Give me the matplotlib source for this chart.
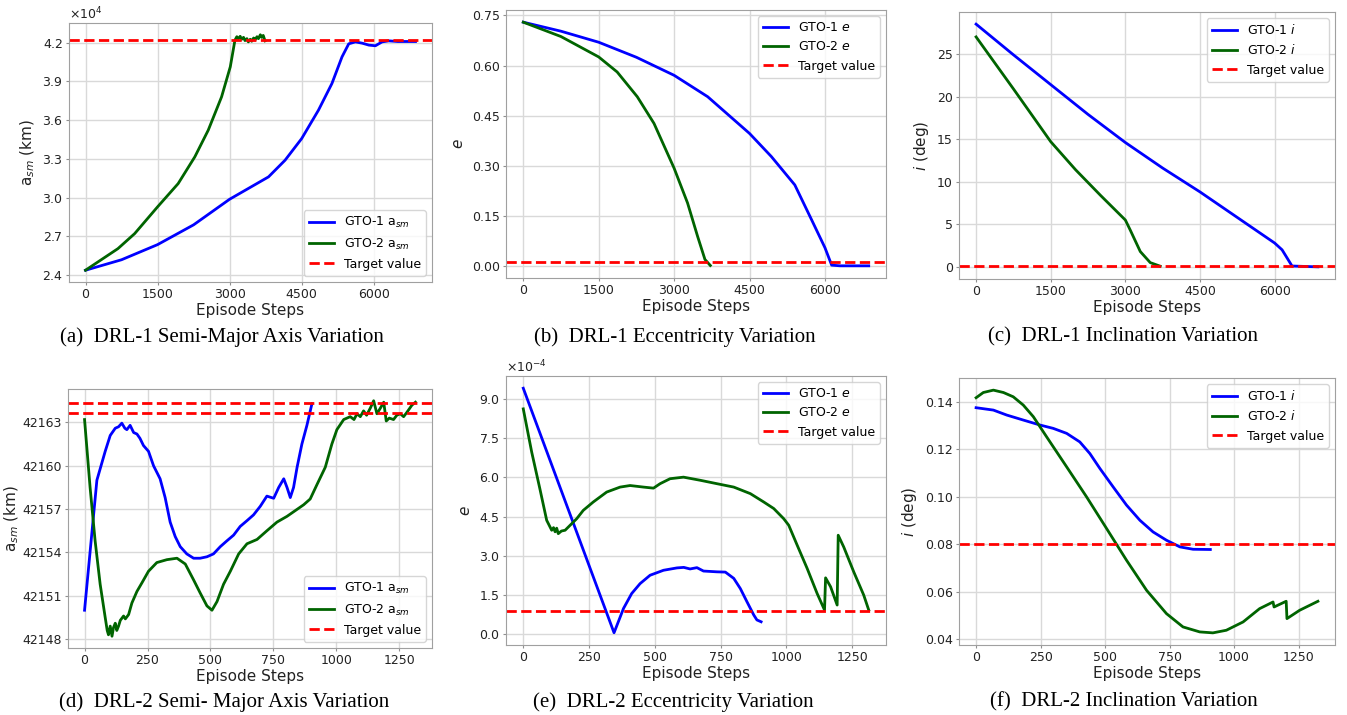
import matplotlib
matplotlib.use('Agg')
import matplotlib.pyplot as plt

# ---- (a) DRL-1 semi-major axis ----
a1_steps = [0, 750, 1500, 2250, 3000, 3810, 4155, 4500, 4850, 5130, 5340, 5480, 5620, 5760, 5900, 6035, 6175, 6315, 6500, 6870]
a1_gto1 = [24390, 25200, 26370, 27900, 29880, 31610, 32900, 34570, 36770, 38830, 40890, 41900, 42050, 41950, 41800, 41750, 42050, 42130, 42080, 42080]
a1_steps2 = [0, 675, 1023, 1500, 1929, 2276, 2555, 2833, 3014, 3111, 3150, 3180, 3220, 3250, 3290, 3320, 3360, 3390,
             3430, 3460, 3500, 3530, 3570, 3600, 3640, 3668, 3700, 3738]
a1_gto2 = [24390, 26060, 27220, 29290, 31090, 33160, 35220, 37800, 40120, 42180, 42450, 42300, 42480, 42250, 42400,
           42150, 42300, 42050, 42250, 42100, 42350, 42200, 42450, 42300, 42600, 42400, 42550, 42130]
a1_target = 42164

# ---- (b) DRL-1 eccentricity ----
e1_steps = [0, 750, 1500, 2250, 3000, 3667, 4500, 4933, 5400, 5733, 6000, 6133, 6300, 6870]
e1_gto1 = [0.730, 0.703, 0.670, 0.625, 0.571, 0.507, 0.397, 0.328, 0.243, 0.139, 0.055, 0.003, 0.001, 0.001]
e1_steps2 = [0, 750, 1500, 1867, 2267, 2600, 3000, 3267, 3467, 3613, 3720]
e1_gto2 = [0.730, 0.687, 0.626, 0.581, 0.507, 0.427, 0.293, 0.189, 0.089, 0.020, 0.002]
e1_target = 0.011

# ---- (c) DRL-1 inclination ----
i1_steps = [0, 750, 1500, 2250, 3000, 3750, 4500, 5250, 6000, 6150, 6350, 6870]
i1_gto1 = [28.5, 24.9, 21.4, 17.9, 14.6, 11.6, 8.8, 5.8, 2.8, 2.0, 0.1, 0.0]
i1_steps2 = [0, 750, 1500, 2000, 2500, 3000, 3100, 3300, 3500, 3700]
i1_gto2 = [27.0, 20.9, 14.7, 11.4, 8.4, 5.5, 4.3, 1.8, 0.5, 0.08]
i1_target = 0.1

# ---- (d) DRL-2 semi-major axis ----
a2_steps = [0, 49, 82, 102, 122, 135, 148, 160, 168, 181, 195, 208, 220, 234, 254, 274, 300, 320, 340, 360, 380,
            406, 433, 459, 486, 512, 539, 565, 592, 618, 645, 671, 698, 724, 751, 771, 791, 804, 817, 830, 844,
            863, 883, 903]
a2_gto1 = [42150.0, 42159.0, 42161.0, 42162.1, 42162.6, 42162.7, 42162.95, 42162.6, 42162.5, 42162.8, 42162.3,
           42162.2, 42161.9, 42161.4, 42161.0, 42160.0, 42159.1, 42157.8, 42156.1, 42155.1, 42154.4, 42153.9,
           42153.6, 42153.6, 42153.7, 42153.9, 42154.4, 42154.8, 42155.2, 42155.8, 42156.2, 42156.6, 42157.2,
           42157.9, 42157.75, 42158.5, 42159.1, 42158.5, 42157.8, 42158.5, 42159.9, 42161.5, 42162.8, 42164.3]
a2_steps2 = [0, 22, 42, 62, 82, 90, 95, 102, 109, 115, 122, 128, 135, 142, 155, 162, 175, 188, 208, 228, 254, 287,
             327, 367, 400, 433, 459, 486, 506, 526, 552, 579, 612, 645, 685, 724, 764, 804, 837, 870, 896, 923,
             956, 982, 1002, 1029, 1055, 1070, 1082, 1095, 1108, 1120, 1135, 1148, 1161, 1175, 1188, 1198, 1210,
             1227, 1240, 1254, 1267, 1280, 1300, 1314]
a2_gto2 = [42163.2, 42158.5, 42154.8, 42151.8, 42149.5, 42148.6, 42148.3, 42148.9, 42148.2, 42148.8, 42149.1,
           42148.6, 42148.9, 42149.3, 42149.6, 42149.4, 42149.7, 42150.5, 42151.3, 42151.9, 42152.7, 42153.3,
           42153.5, 42153.6, 42153.2, 42152.1, 42151.2, 42150.3, 42150.0, 42150.6, 42151.8, 42152.7, 42153.9,
           42154.6, 42154.9, 42155.5, 42156.1, 42156.5, 42156.9, 42157.3, 42157.7, 42158.7, 42159.9, 42161.5,
           42162.5, 42163.2, 42163.4, 42163.2, 42163.6, 42163.4, 42163.8, 42163.5, 42164.0, 42164.5, 42163.6,
           42164.0, 42164.4, 42163.1, 42163.3, 42163.2, 42163.5, 42163.6, 42163.4, 42163.7, 42164.2, 42164.4]
a2_target_hi = 42164.35
a2_target_lo = 42163.65

# ---- (e) DRL-2 eccentricity (x1e-4) ----
e2_steps = [0, 345, 381, 412, 444, 482, 533, 584, 610, 634, 660, 685, 736, 768, 800, 825, 850, 876, 888, 904]
e2_gto1 = [9.41, 0.06, 0.99, 1.56, 1.94, 2.26, 2.45, 2.54, 2.56, 2.50, 2.55, 2.42, 2.39, 2.38, 2.14, 1.75, 1.25,
           0.74, 0.55, 0.48]
e2_steps2 = [0, 32, 63, 89, 108, 115, 121, 127, 133, 145, 159, 178, 203, 228, 266, 317, 368, 406, 457, 495, 520,
             558, 609, 673, 736, 800, 863, 914, 952, 990, 1009, 1041, 1079, 1117, 1145, 1149, 1168, 1193, 1197,
             1218, 1256, 1294, 1313]
e2_gto2 = [8.62, 6.97, 5.57, 4.36, 3.98, 4.08, 3.92, 4.06, 3.85, 3.95, 3.98, 4.17, 4.42, 4.74, 5.06, 5.44, 5.63,
           5.69, 5.63, 5.59, 5.76, 5.95, 6.01, 5.89, 5.76, 5.63, 5.38, 5.06, 4.81, 4.42, 4.17, 3.41, 2.52, 1.56,
           0.93, 2.16, 1.82, 1.12, 3.79, 3.34, 2.39, 1.50, 0.93]
e2_target = 0.9

# ---- (f) DRL-2 inclination ----
i2_steps = [0, 67, 119, 183, 248, 299, 351, 402, 441, 480, 531, 583, 635, 686, 738, 790, 841, 908]
i2_gto1 = [0.1375, 0.1365, 0.1344, 0.1323, 0.1302, 0.1288, 0.1267, 0.1231, 0.1182, 0.1119, 0.1042,
           0.0965, 0.0901, 0.0852, 0.0817, 0.0789, 0.0779, 0.0778]
i2_steps2 = [0, 28, 67, 106, 144, 183, 222, 273, 351, 428, 506, 583, 661, 738, 802, 867, 918, 970,
             1035, 1099, 1151, 1155, 1202, 1205, 1254, 1325]
i2_gto2 = [0.1417, 0.1439, 0.1449, 0.1439, 0.1421, 0.1386, 0.1337, 0.1253, 0.1126, 0.1000, 0.0866,
           0.0733, 0.0606, 0.0508, 0.0452, 0.0431, 0.0427, 0.0438, 0.0473, 0.0529, 0.0557, 0.0536,
           0.0560, 0.0487, 0.0522, 0.0560]
i2_target = 0.08

captions = ['(a)  DRL-1 Semi-Major Axis Variation', '(b)  DRL-1 Eccentricity Variation',
            '(c)  DRL-1 Inclination Variation', '(d)  DRL-2 Semi- Major Axis Variation',
            '(e)  DRL-2 Eccentricity Variation', '(f)  DRL-2 Inclination Variation']

fig = plt.figure(figsize=(13.47, 7.15), dpi=100)
W, H = 1347.0, 715.0
TICK = 9

def make_ax(left, top, right, bottom):
    ax = fig.add_axes([left / W, 1 - bottom / H, (right - left) / W, (bottom - top) / H])
    ax.grid(True, color='#d9d9d9', lw=1)
    ax.set_axisbelow(True)
    for s in ax.spines.values():
        s.set_color('#a0a0a0')
    ax.tick_params(labelsize=TICK, colors='#909090', labelcolor='#222222', length=2, pad=2.5)
    ax.set_xlabel('Episode Steps', fontsize=11, labelpad=1, color='#222222')
    return ax

def draw(ax, x1, y1, x2, y2, lab1, lab2, targets, loc):
    ax.plot(x1, y1, color='blue', lw=2, label=lab1)
    ax.plot(x2, y2, color='darkgreen', lw=2, label=lab2)
    for k, t in enumerate(targets):
        ax.axhline(t, color='red', ls='--', lw=2, label='Target value' if k == 0 else None)
    ax.legend(loc=loc, fontsize=9, handlelength=2.0)

# (a)
ax = make_ax(69, 23, 432, 282)
draw(ax, a1_steps, a1_gto1, a1_steps2, a1_gto2, 'GTO-1 a$_{sm}$', 'GTO-2 a$_{sm}$', [a1_target], 'lower right')
ax.set_xticks([0, 1500, 3000, 4500, 6000])
ax.set_yticks([24000, 27000, 30000, 33000, 36000, 39000, 42000])
ax.ticklabel_format(axis='y', style='sci', scilimits=(0, 0), useMathText=True)
ax.yaxis.get_offset_text().set_fontsize(TICK)
ax.set_ylabel('a$_{sm}$ (km)', fontsize=11, color='#222222', labelpad=3)

# (b)
ax = make_ax(506, 10, 886, 278)
draw(ax, e1_steps, e1_gto1, e1_steps2, e1_gto2, 'GTO-1 $e$', 'GTO-2 $e$', [e1_target], 'upper right')
ax.set_xticks([0, 1500, 3000, 4500, 6000])
ax.set_yticks([0.0, 0.15, 0.30, 0.45, 0.60, 0.75])
ax.set_yticklabels(['0.00', '0.15', '0.30', '0.45', '0.60', '0.75'])
ax.set_ylabel('$e$', fontsize=11, color='#222222')

# (c)
ax = make_ax(959, 12, 1335, 279)
draw(ax, i1_steps, i1_gto1, i1_steps2, i1_gto2, 'GTO-1 $i$', 'GTO-2 $i$', [i1_target], 'upper right')
ax.set_xticks([0, 1500, 3000, 4500, 6000])
ax.set_yticks([0, 5, 10, 15, 20, 25])
ax.set_ylabel('$i$ (deg)', fontsize=11, color='#222222')

# (d)
ax = make_ax(68, 389, 432, 648)
draw(ax, a2_steps, a2_gto1, a2_steps2, a2_gto2, 'GTO-1 a$_{sm}$', 'GTO-2 a$_{sm}$',
     [a2_target_hi, a2_target_lo], 'lower right')
ax.set_xticks([0, 250, 500, 750, 1000, 1250])
ax.set_yticks([42148, 42151, 42154, 42157, 42160, 42163])
ax.ticklabel_format(axis='y', useOffset=False, style='plain')
ax.set_ylabel('a$_{sm}$ (km)', fontsize=11, color='#222222', labelpad=1)

# (e)
ax = make_ax(506, 376, 886, 645)
draw(ax, e2_steps, [v * 1e-4 for v in e2_gto1], e2_steps2, [v * 1e-4 for v in e2_gto2],
     'GTO-1 $e$', 'GTO-2 $e$', [e2_target * 1e-4], 'upper right')
ax.set_xticks([0, 250, 500, 750, 1000, 1250])
ax.set_yticks([0, 1.5e-4, 3.0e-4, 4.5e-4, 6.0e-4, 7.5e-4, 9.0e-4])
ax.ticklabel_format(axis='y', style='sci', scilimits=(0, 0), useMathText=True)
ax.yaxis.get_offset_text().set_fontsize(TICK)
ax.set_ylabel('$e$', fontsize=11, color='#222222')

# (f)
ax = make_ax(959, 378, 1335, 645)
draw(ax, i2_steps, i2_gto1, i2_steps2, i2_gto2, 'GTO-1 $i$', 'GTO-2 $i$', [i2_target], 'upper right')
ax.set_xticks([0, 250, 500, 750, 1000, 1250])
ax.set_yticks([0.04, 0.06, 0.08, 0.10, 0.12, 0.14])
ax.set_ylabel('$i$ (deg)', fontsize=11, color='#222222')

cap_x = [222, 675, 1123, 224, 673, 1124]
cap_y = [337, 337, 337, 702, 702, 702]
for c, cx, cy in zip(captions, cap_x, cap_y):
    fig.text(cx / W, 1 - cy / H, c, ha='center', va='center', fontsize=15,
             family='Liberation Serif', color='black')

plt.savefig('out.png', dpi=100)
